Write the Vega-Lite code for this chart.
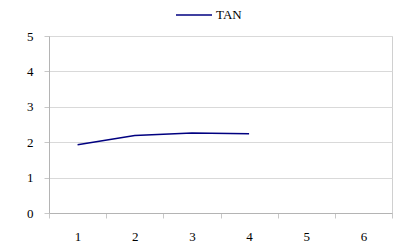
{
  "$schema": "https://vega.github.io/schema/vega-lite/v6.json",
  "width": 343,
  "height": 177,
  "autosize": "none",
  "padding": {"left": 49, "top": 36, "right": 4, "bottom": 35},
  "background": "white",
  "config": {
    "font": "Times New Roman",
    "view": {"stroke": "#d0d0d0", "strokeWidth": 1}
  },
  "data": {
    "values": [
      {"x": 1, "y": 1.93, "series": "TAN"},
      {"x": 2, "y": 2.19, "series": "TAN"},
      {"x": 3, "y": 2.26, "series": "TAN"},
      {"x": 4, "y": 2.24, "series": "TAN"}
    ]
  },
  "mark": {"type": "line", "strokeWidth": 1.5},
  "encoding": {
    "x": {
      "field": "x",
      "type": "quantitative",
      "scale": {"domain": [0.5, 6.5], "nice": false, "zero": false},
      "axis": {
        "title": null,
        "values": [0.5, 1, 1.5, 2, 2.5, 3, 3.5, 4, 4.5, 5, 5.5, 6, 6.5],
        "labelExpr": "datum.value % 1 == 0 ? format(datum.value, 'd') : ''",
        "labelOverlap": false,
        "tickOpacity": {"condition": {"test": "datum.value % 1 == 0", "value": 0}, "value": 1},
        "grid": false,
        "domainColor": "#b4b4b4",
        "tickColor": "#c8c8c8",
        "tickSize": 5,
        "labelPadding": 12,
        "labelFontSize": 13,
        "labelFontWeight": "normal",
        "labelColor": "#000000",
        "labelFont": "Times New Roman"
      }
    },
    "y": {
      "field": "y",
      "type": "quantitative",
      "scale": {"domain": [0, 5], "nice": false},
      "axis": {
        "title": null,
        "values": [0, 1, 2, 3, 4, 5],
        "grid": true,
        "gridColor": "#d9d9d9",
        "domainColor": "#b4b4b4",
        "tickColor": "#c8c8c8",
        "tickSize": 5,
        "labelPadding": 11,
        "labelFontSize": 13,
        "labelColor": "#000000",
        "labelFont": "Times New Roman"
      }
    },
    "color": {
      "field": "series",
      "type": "nominal",
      "scale": {"range": ["#000080"]},
      "legend": {
        "title": null,
        "orient": "none",
        "legendX": 126,
        "legendY": -40,
        "symbolType": "stroke",
        "symbolSize": 1296,
        "symbolStrokeWidth": 1.5,
        "labelFontSize": 13,
        "labelFont": "Times New Roman",
        "labelColor": "#000000",
        "labelOffset": 3
      }
    }
  }
}
